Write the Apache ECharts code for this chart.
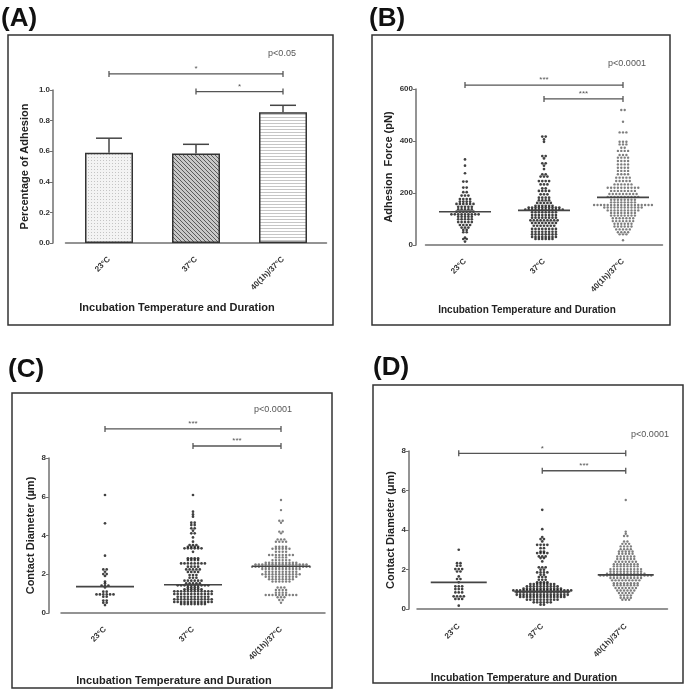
<!DOCTYPE html>
<html>
<head>
<meta charset="utf-8">
<script src="https://cdn.jsdelivr.net/npm/echarts@6/dist/echarts.min.js"></script>
<style>
  html, body { margin: 0; background: #fff; }
  #chart { width: 685px; height: 697px; }
</style>
</head>
<body>
<div id="chart"></div>
<script>
// categories
const groups = ['23°C', '37°C', '40(1h)/37°C']

// (A) percentage of adhesion: bar height and top of error bar
const adhesionMean = [0.59, 0.585, 0.855]
const adhesionErrTop = [0.685, 0.645, 0.9]

// (B) adhesion force (pN), one value per dot
const forceB23 = [329, 305, 276, 244, 244, 221, 221, 203, 203, 190, 190, 190, 177, 177, 177, 177,
  167, 167, 167, 167, 158, 158, 158, 158, 158, 158, 147, 147, 147, 147, 147, 137, 137, 137, 137, 137,
  128, 128, 128, 128, 128, 128, 118, 118, 118, 118, 118, 118, 118, 118, 118,
  109, 109, 109, 109, 109, 99, 99, 99, 99, 99, 88, 88, 88, 88, 88,
  77, 77, 77, 77, 67, 67, 67, 58, 58, 49, 49, 28, 23, 23, 13]
const forceB37 = [417, 417, 406, 397, 342, 342, 333, 314, 314, 305, 292, 272, 272, 263, 263, 263,
  246, 246, 246, 246, 233, 233, 233, 218, 218, 208, 208, 208, 208, 195, 195, 195, 182, 182, 182, 182,
  172, 172, 172, 172, 162, 162, 162, 162, 162, 151, 151, 151, 151, 151, 151,
  144, 144, 144, 144, 144, 144, 144, 144, 144, 144,
  136, 136, 136, 136, 136, 136, 136, 136, 136, 136, 136, 136,
  126, 126, 126, 126, 126, 126, 126, 126, 115, 115, 115, 115, 115, 115, 115, 115,
  105, 105, 105, 105, 105, 105, 105, 105, 95, 95, 95, 95, 95, 95, 95, 95, 95,
  85, 85, 85, 85, 85, 85, 85, 85, 74, 74, 74, 74, 74, 74, 74,
  62, 62, 62, 62, 62, 62, 62, 62, 51, 51, 51, 51, 51, 51, 51, 51,
  41, 41, 41, 41, 41, 41, 41, 41, 31, 31, 31, 31, 31, 31, 31, 31, 23, 23, 23, 23, 23, 23]
const forceB40 = [519, 519, 474, 433, 433, 433, 397, 397, 397, 387, 387, 387, 374, 374, 362, 362, 362, 362,
  346, 346, 346, 336, 336, 336, 336, 323, 323, 323, 323, 310, 310, 310, 310, 297, 297, 297, 297,
  285, 285, 285, 285, 272, 272, 272, 272, 259, 259, 259, 259, 259, 246, 246, 246, 246, 246,
  233, 233, 233, 233, 233, 233, 220, 220, 220, 220, 220, 220, 220, 220, 220, 220,
  208, 208, 208, 208, 208, 208, 208, 208, 196, 196, 196, 196, 196, 196, 196, 196, 196,
  185, 185, 185, 185, 185, 185, 185, 185, 185, 185, 174, 174, 174, 174, 174, 174, 174, 174,
  164, 164, 164, 164, 164, 164, 164, 164,
  154, 154, 154, 154, 154, 154, 154, 154, 154, 154, 154, 154, 154, 154, 154, 154, 154, 154,
  144, 144, 144, 144, 144, 144, 144, 144, 144, 144, 144, 144,
  133, 133, 133, 133, 133, 133, 133, 133, 133, 133, 123, 123, 123, 123, 123, 123, 123, 123,
  113, 113, 113, 113, 113, 113, 113, 113, 103, 103, 103, 103, 103, 103, 103,
  92, 92, 92, 92, 92, 92, 92, 82, 82, 82, 82, 82, 82, 71, 71, 71, 71, 71, 71,
  60, 60, 60, 60, 60, 49, 49, 49, 49, 41, 41, 41, 18]
const medianB = [128, 133, 183]

// (C) contact diameter (µm)
const diamC23 = [6.09, 4.63, 2.96, 2.25, 2.25, 2.13, 2.01, 2.01, 1.91, 1.62, 1.53, 1.41, 1.41, 1.41, 1.32,
  1.10, 1.10, 0.96, 0.96, 0.96, 0.96, 0.96, 0.96, 0.84, 0.84, 0.64, 0.64, 0.53, 0.53, 0.41]
const diamC37 = [6.09, 5.23, 5.09, 4.97, 4.66, 4.66, 4.54, 4.54, 4.37, 4.37, 4.25, 4.11, 4.11, 3.90, 3.68,
  3.51, 3.51, 3.51, 3.42, 3.42, 3.42, 3.42, 3.34, 3.34, 3.34, 3.34, 3.34, 3.34, 3.16,
  2.82, 2.82, 2.82, 2.82, 2.73, 2.73, 2.73, 2.73, 2.56, 2.56, 2.56, 2.56, 2.56, 2.56, 2.56, 2.56,
  2.39, 2.39, 2.39, 2.39, 2.25, 2.25, 2.25, 2.25, 2.25, 2.12, 2.12, 2.12, 2.12, 1.96, 1.96, 1.96,
  1.82, 1.82, 1.82, 1.67, 1.67, 1.67, 1.67, 1.67, 1.67, 1.53, 1.53, 1.53, 1.53, 1.53,
  1.43, 1.43, 1.43, 1.43, 1.43, 1.43, 1.43, 1.43, 1.43, 1.43, 1.32, 1.32, 1.32, 1.32,
  1.22, 1.22, 1.22, 1.22, 1.22, 1.22, 1.12, 1.12, 1.12, 1.12, 1.12, 1.12, 1.12, 1.12, 1.12, 1.12, 1.12, 1.12,
  0.98, 0.98, 0.98, 0.98, 0.98, 0.98, 0.98, 0.98, 0.98, 0.98, 0.98, 0.98,
  0.84, 0.84, 0.84, 0.84, 0.84, 0.84, 0.84, 0.84, 0.84, 0.84,
  0.71, 0.71, 0.71, 0.71, 0.71, 0.71, 0.71, 0.71, 0.71, 0.71, 0.71, 0.71,
  0.57, 0.57, 0.57, 0.57, 0.57, 0.57, 0.57, 0.57, 0.57, 0.57, 0.57, 0.57,
  0.46, 0.46, 0.46, 0.46, 0.46, 0.46, 0.46, 0.46]
const diamC40 = [5.83, 5.31, 4.76, 4.76, 4.66, 4.20, 4.20, 4.11, 3.80, 3.80, 3.80, 3.68, 3.68, 3.68, 3.68,
  3.42, 3.42, 3.42, 3.42, 3.32, 3.32, 3.32, 3.32, 3.32, 3.32, 3.16, 3.16, 3.16, 3.16,
  2.99, 2.99, 2.99, 2.99, 2.99, 2.99, 2.99, 2.99, 2.87, 2.87, 2.87, 2.87, 2.73, 2.73, 2.73, 2.73, 2.73, 2.73,
  2.60, 2.60, 2.60, 2.60, 2.60, 2.60, 2.60, 2.60, 2.60, 2.60,
  2.51, 2.51, 2.51, 2.51, 2.51, 2.51, 2.51, 2.51, 2.51, 2.51, 2.51, 2.51, 2.51, 2.51, 2.51, 2.51,
  2.39, 2.39, 2.39, 2.39, 2.39, 2.39, 2.39, 2.39, 2.39, 2.39, 2.39, 2.39, 2.39, 2.39, 2.39, 2.39, 2.39, 2.39,
  2.27, 2.27, 2.27, 2.27, 2.27, 2.27, 2.27, 2.27, 2.27, 2.27, 2.27, 2.27,
  2.13, 2.13, 2.13, 2.13, 2.13, 2.13, 2.13, 2.13, 2.13, 2.13,
  2.00, 2.00, 2.00, 2.00, 2.00, 2.00, 2.00, 2.00, 2.00, 2.00, 2.00, 2.00,
  1.87, 1.87, 1.87, 1.87, 1.87, 1.87, 1.87, 1.87, 1.87, 1.87, 1.74, 1.74, 1.74, 1.74, 1.74, 1.74, 1.74, 1.74,
  1.62, 1.62, 1.62, 1.62, 1.62, 1.62, 1.32, 1.32, 1.32, 1.19, 1.19, 1.19, 1.19, 1.05, 1.05, 1.05, 1.05,
  0.93, 0.93, 0.93, 0.93, 0.93, 0.93, 0.93, 0.93, 0.93, 0.93, 0.81, 0.81, 0.81, 0.67, 0.67, 0.53]
const medianC = [1.36, 1.46, 2.41]

// (D) contact diameter (µm)
const diamD23 = [3.00, 2.32, 2.32, 2.19, 2.19, 2.02, 2.02, 2.02, 1.90, 1.90, 1.65, 1.52, 1.52, 1.35,
  1.15, 1.15, 1.15, 1.01, 1.01, 1.01, 0.84, 0.84, 0.84, 0.64, 0.64, 0.64, 0.64, 0.51, 0.51, 0.51, 0.17]
const diamD37 = [5.02, 4.04, 3.64, 3.54, 3.54, 3.42, 3.25, 3.25, 3.25, 3.25, 3.08, 3.08, 2.91, 2.91,
  2.83, 2.83, 2.83, 2.83, 2.66, 2.66, 2.66, 2.58, 2.58, 2.41, 2.11, 2.11, 2.11, 1.99, 1.99,
  1.85, 1.85, 1.85, 1.85, 1.73, 1.73, 1.62, 1.62, 1.62, 1.48, 1.48, 1.48, 1.35, 1.35, 1.35, 1.35,
  1.26, 1.26, 1.26, 1.26, 1.26, 1.26, 1.26, 1.26,
  1.15, 1.15, 1.15, 1.15, 1.15, 1.15, 1.15, 1.15, 1.15, 1.15,
  1.03, 1.03, 1.03, 1.03, 1.03, 1.03, 1.03, 1.03, 1.03, 1.03, 1.03, 1.03,
  0.94, 0.94, 0.94, 0.94, 0.94, 0.94, 0.94, 0.94, 0.94, 0.94, 0.94, 0.94, 0.94, 0.94, 0.94, 0.94, 0.94, 0.94,
  0.84, 0.84, 0.84, 0.84, 0.84, 0.84, 0.84, 0.84, 0.84, 0.84, 0.84, 0.84, 0.84, 0.84, 0.84, 0.84,
  0.72, 0.72, 0.72, 0.72, 0.72, 0.72, 0.72, 0.72, 0.72, 0.72, 0.72, 0.72, 0.72, 0.72, 0.72, 0.72,
  0.61, 0.61, 0.61, 0.61, 0.61, 0.61, 0.61, 0.61, 0.61, 0.61, 0.61, 0.61, 0.61, 0.61,
  0.47, 0.47, 0.47, 0.47, 0.47, 0.47, 0.47, 0.47, 0.47, 0.47, 0.34, 0.34, 0.34, 0.34, 0.34, 0.34, 0.22, 0.22]
const diamD40 = [5.52, 3.92, 3.81, 3.70, 3.70, 3.42, 3.42, 3.30, 3.30, 3.30, 3.17, 3.17, 3.17, 3.17,
  3.03, 3.03, 3.03, 3.03, 2.91, 2.91, 2.91, 2.91, 2.91, 2.80, 2.80, 2.80, 2.80, 2.80,
  2.66, 2.66, 2.66, 2.66, 2.66, 2.66, 2.53, 2.53, 2.53, 2.53, 2.53, 2.53,
  2.39, 2.39, 2.39, 2.39, 2.39, 2.39, 2.39, 2.27, 2.27, 2.27, 2.27, 2.27, 2.27, 2.27, 2.27,
  2.16, 2.16, 2.16, 2.16, 2.16, 2.16, 2.16, 2.16, 2.02, 2.02, 2.02, 2.02, 2.02, 2.02, 2.02, 2.02, 2.02, 2.02,
  1.90, 1.90, 1.90, 1.90, 1.90, 1.90, 1.90, 1.90, 1.90, 1.90,
  1.79, 1.79, 1.79, 1.79, 1.79, 1.79, 1.79, 1.79, 1.79, 1.79, 1.79, 1.79,
  1.70, 1.70, 1.70, 1.70, 1.70, 1.70, 1.70, 1.70, 1.70, 1.70, 1.70, 1.70, 1.70, 1.70, 1.70, 1.70,
  1.57, 1.57, 1.57, 1.57, 1.57, 1.57, 1.57, 1.57, 1.57, 1.57, 1.45, 1.45, 1.45, 1.45, 1.45, 1.45, 1.45, 1.45, 1.45,
  1.31, 1.31, 1.31, 1.31, 1.31, 1.31, 1.31, 1.31, 1.20, 1.20, 1.20, 1.20, 1.20, 1.20, 1.20, 1.20,
  1.06, 1.06, 1.06, 1.06, 1.06, 1.06, 1.06, 0.94, 0.94, 0.94, 0.94, 0.94, 0.94,
  0.81, 0.81, 0.81, 0.81, 0.81, 0.69, 0.69, 0.69, 0.69, 0.57, 0.57, 0.57, 0.57, 0.47, 0.47, 0.47]
const medianD = [1.35, 0.88, 1.73]

// significance brackets: [from group, to group, height]
const bracketsA = [[0, 2, 1.105], [1, 2, 0.99]]
const starsA = ['*', '*']
const bracketsB = [[0, 2, 615], [1, 2, 562]]
const starsB = ['***', '***']
const bracketsC = [[0, 2, 9.5], [1, 2, 8.62]]
const starsC = ['***', '***']
const bracketsD = [[0, 2, 7.88], [1, 2, 7.0]]
const starsD = ['*', '***']

const FONT = '"Liberation Sans", Arial, sans-serif'

// panel geometry (pixels)
const panels = [
  { left: 65.5, top: 90, width: 261, height: 153, xOff: 10, yOff: 12.5, max: 1, interval: 0.2,
    name: 'Percentage of Adhesion', nameGap: 23, fmt: v => v.toFixed(1) },
  { left: 425.5, top: 89, width: 237, height: 156, xOff: 10, yOff: 9.5, max: 600, interval: 200,
    name: 'Adhesion  Force (pN)', nameGap: 22, fmt: v => String(v) },
  { left: 61, top: 458, width: 264, height: 155, xOff: 10, yOff: 12, max: 8, interval: 2,
    name: 'Contact Diameter (µm)', nameGap: 13, fmt: v => String(v) },
  { left: 417, top: 451, width: 250.5, height: 158, xOff: 11, yOff: 8, max: 8, interval: 2,
    name: 'Contact Diameter (μm)', nameGap: 13, fmt: v => String(v) }
]

const makePattern = (kind) => {
  const c = document.createElement('canvas')
  const ctx = c.getContext('2d')
  if (kind === 'dots') {
    c.width = 3; c.height = 3
    ctx.fillStyle = '#f3f3f3'; ctx.fillRect(0, 0, 3, 3)
    ctx.fillStyle = '#c4c4c4'; ctx.fillRect(1, 1, 1, 1)
  } else if (kind === 'diag') {
    c.width = 4; c.height = 4
    ctx.fillStyle = '#c8c8c8'; ctx.fillRect(0, 0, 4, 4)
    ctx.fillStyle = '#5a5a5a'
    for (let i = 0; i < 4; i++) ctx.fillRect(i, i, 1, 1)
  } else {
    c.width = 3; c.height = 3
    ctx.fillStyle = '#ffffff'; ctx.fillRect(0, 0, 3, 3)
    ctx.fillStyle = '#c6c6c6'; ctx.fillRect(0, 0, 3, 1)
  }
  return { image: c, repeat: 'repeat' }
}

// beeswarm: dots with the same value share a row, spread sideways about the group centre
const DOT_X = 3.4
const swarm = (values, groupIndex, panel) => {
  const unit = 3 / panel.width
  const rows = new Map()
  values.forEach(v => {
    if (!rows.has(v)) rows.set(v, [])
    rows.get(v).push(v)
  })
  const out = []
  rows.forEach(list => {
    const n = list.length
    list.forEach((v, k) => out.push([groupIndex + (k - (n - 1) / 2) * DOT_X * unit, v]))
  })
  return out
}

const grid = []
const xAxis = []
const yAxis = []
const series = []

panels.forEach((p, i) => {
  grid.push({ left: p.left, top: p.top, width: p.width, height: p.height })
  xAxis.push({
    type: 'category', gridIndex: i, data: groups, boundaryGap: true, offset: p.xOff,
    axisLine: { lineStyle: { color: '#707070', width: 1.5 } },
    axisTick: { alignWithLabel: true, length: 3, lineStyle: { color: '#707070' } },
    axisLabel: { rotate: 45, interval: 0, fontSize: 8, fontWeight: 'bold', color: '#333', margin: 5, fontFamily: FONT },
    splitLine: { show: false }
  })
  xAxis.push({ type: 'value', gridIndex: i, min: -0.5, max: 2.5, show: false })
  yAxis.push({
    type: 'value', gridIndex: i, min: 0, max: p.max, interval: p.interval, offset: p.yOff,
    name: p.name, nameLocation: 'middle', nameGap: p.nameGap,
    nameTextStyle: { fontSize: 11, fontWeight: 'bold', color: '#222', fontFamily: FONT },
    axisLine: { show: true, onZero: false, lineStyle: { color: '#707070', width: 1.5 } },
    axisTick: { show: true, length: 3, lineStyle: { color: '#707070' } },
    axisLabel: { fontSize: 8, fontWeight: 'bold', color: '#333', margin: 3, fontFamily: FONT, formatter: p.fmt },
    splitLine: { show: false }
  })
})

const bracketSeries = (i, brackets, stars) => ({
  type: 'custom', xAxisIndex: 2 * i + 1, yAxisIndex: i, clip: false, silent: true, z: 6,
  data: brackets,
  encode: { x: [0, 1], y: 2 },
  renderItem: (params, api) => {
    const a = api.coord([api.value(0), api.value(2)])
    const b = api.coord([api.value(1), api.value(2)])
    const st = { stroke: '#555', lineWidth: 1.3 }
    return {
      type: 'group',
      children: [
        { type: 'line', shape: { x1: a[0], y1: a[1], x2: b[0], y2: b[1] }, style: st },
        { type: 'line', shape: { x1: a[0], y1: a[1] - 3, x2: a[0], y2: a[1] + 3 }, style: st },
        { type: 'line', shape: { x1: b[0], y1: b[1] - 3, x2: b[0], y2: b[1] + 3 }, style: st },
        { type: 'text', style: { text: stars[params.dataIndex], x: (a[0] + b[0]) / 2, y: a[1] - 1,
          fill: '#555', font: '8px ' + FONT, align: 'center', verticalAlign: 'bottom' } }
      ]
    }
  }
})

const medianSeries = (i, medians, halfWidth) => ({
  type: 'custom', xAxisIndex: 2 * i + 1, yAxisIndex: i, silent: true, z: 5,
  data: medians.map((m, g) => [g, m]),
  renderItem: (params, api) => {
    const c = api.coord([api.value(0), api.value(1)])
    return { type: 'line', shape: { x1: c[0] - halfWidth, y1: c[1], x2: c[0] + halfWidth, y2: c[1] },
      style: { stroke: '#444', lineWidth: 1.6 } }
  }
})

const dotSeries = (i, values, g) => ({
  type: 'scatter', xAxisIndex: 2 * i + 1, yAxisIndex: i, silent: true, z: 3,
  data: swarm(values, g, panels[i]),
  symbol: 'circle',
  symbolSize: g === 2 ? 2.4 : 2.7,
  itemStyle: { color: g === 2 ? '#5e5e5e' : '#111' }
})

// (A) bars with patterns and upper error bars
series.push({
  type: 'bar', xAxisIndex: 0, yAxisIndex: 0, barWidth: 48, silent: true,
  data: adhesionMean.map((v, g) => ({
    value: v,
    itemStyle: { color: makePattern(['dots', 'diag', 'lines'][g]), borderColor: '#333', borderWidth: 1.5 }
  }))
})
series.push({
  type: 'custom', xAxisIndex: 1, yAxisIndex: 0, silent: true, z: 4,
  data: adhesionMean.map((v, g) => [g, v, adhesionErrTop[g]]),
  renderItem: (params, api) => {
    const lo = api.coord([api.value(0), api.value(1)])
    const hi = api.coord([api.value(0), api.value(2)])
    const st = { stroke: '#444', lineWidth: 1.5 }
    return {
      type: 'group',
      children: [
        { type: 'line', shape: { x1: lo[0], y1: lo[1], x2: hi[0], y2: hi[1] }, style: st },
        { type: 'line', shape: { x1: hi[0] - 13, y1: hi[1], x2: hi[0] + 13, y2: hi[1] }, style: st }
      ]
    }
  }
})
series.push(bracketSeries(0, bracketsA, starsA))

// (B)
;[forceB23, forceB37, forceB40].forEach((vals, g) => series.push(dotSeries(1, vals, g)))
series.push(medianSeries(1, medianB, 26))
series.push(bracketSeries(1, bracketsB, starsB))

// (C)
;[diamC23, diamC37, diamC40].forEach((vals, g) => series.push(dotSeries(2, vals, g)))
series.push(medianSeries(2, medianC, 29))
series.push(bracketSeries(2, bracketsC, starsC))

// (D)
;[diamD23, diamD37, diamD40].forEach((vals, g) => series.push(dotSeries(3, vals, g)))
series.push(medianSeries(3, medianD, 28))
series.push(bracketSeries(3, bracketsD, starsD))

const frame = (x, y, w, h) => ({
  type: 'rect', shape: { x, y, width: w, height: h },
  style: { fill: 'none', stroke: '#333', lineWidth: 1.5 }, silent: true
})
const txt = (text, x, y, font, fill, align) => ({
  type: 'text', x, y, silent: true,
  style: { text, font, fill, align: align || 'center', verticalAlign: 'middle' }
})

const graphic = [
  frame(8, 35, 325, 290),
  frame(372, 35, 298, 290),
  frame(12, 393, 320, 295),
  frame(373, 385, 310, 298),
  txt('(A)', 1, 19, 'bold 26px ' + FONT, '#111', 'left'),
  txt('(B)', 369, 19, 'bold 26px ' + FONT, '#111', 'left'),
  txt('(C)', 8, 370, 'bold 26px ' + FONT, '#111', 'left'),
  txt('(D)', 373, 368, 'bold 26px ' + FONT, '#111', 'left'),
  txt('p<0.05', 282, 54, '9px ' + FONT, '#555'),
  txt('p<0.0001', 627, 64, '9px ' + FONT, '#555'),
  txt('p<0.0001', 273, 410, '9px ' + FONT, '#555'),
  txt('p<0.0001', 650, 435, '9px ' + FONT, '#555'),
  txt('Incubation Temperature and Duration', 177, 308, 'bold 11px ' + FONT, '#222'),
  txt('Incubation Temperature and Duration', 527, 310, 'bold 10px ' + FONT, '#222'),
  txt('Incubation Temperature and Duration', 174, 681, 'bold 11px ' + FONT, '#222'),
  txt('Incubation Temperature and Duration', 524, 678, 'bold 10.5px ' + FONT, '#222')
]

const chart = echarts.init(document.getElementById('chart'))
chart.setOption({
  animation: false,
  backgroundColor: '#fff',
  grid, xAxis, yAxis, series, graphic
})
</script>
</body>
</html>
